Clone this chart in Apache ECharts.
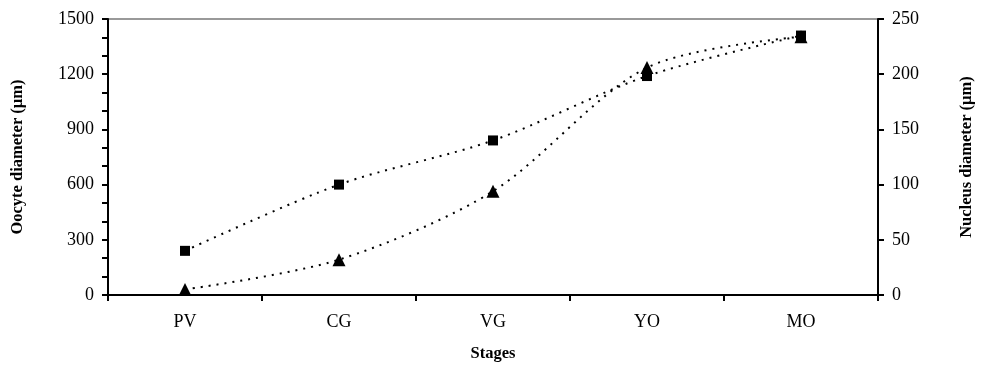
<!DOCTYPE html>
<html>
<head>
<meta charset="utf-8">
<script src="https://cdn.jsdelivr.net/npm/echarts@6/dist/echarts.min.js"></script>
<style>
  html, body { margin: 0; padding: 0; background: #fff; }
  #chart { width: 985px; height: 370px; }
</style>
</head>
<body>
<div id="chart"></div>
<script>
  // stages and values
  const stages = ['PV', 'CG', 'VG', 'YO', 'MO']
  const oocyteDiameter = [240, 600, 840, 1190, 1410]   // left axis
  const nucleusDiameter = [5, 32, 94, 206, 234]        // right axis

  const serif = 'Liberation Serif'
  const chart = echarts.init(document.getElementById('chart'))

  const nameStyle = { fontFamily: serif, fontSize: 16.5, fontWeight: 'bold', color: '#000' }
  const tickLabel = { fontFamily: serif, fontSize: 18, color: '#000' }

  const option = {
    animation: false,
    grid: {
      left: 108,
      right: 107,
      top: 19,
      bottom: 75,
      outerBoundsMode: 'none',
      containLabel: false,
      show: true,
      borderColor: '#999',
      borderWidth: 2
    },
    xAxis: {
      type: 'category',
      data: stages,
      boundaryGap: true,
      name: 'Stages',
      nameLocation: 'middle',
      nameGap: 50,
      nameTextStyle: nameStyle,
      axisLine: { lineStyle: { color: '#000', width: 2 } },
      axisTick: { show: true, length: 6, lineStyle: { color: '#000', width: 2 } },
      axisLabel: Object.assign({ margin: 18 }, tickLabel),
      splitLine: { show: false }
    },
    yAxis: [
      {
        type: 'value',
        min: 0,
        max: 1500,
        interval: 300,
        name: 'Oocyte diameter (µm)',
        nameLocation: 'middle',
        nameGap: 82,
        nameTextStyle: nameStyle,
        axisLine: { show: true, lineStyle: { color: '#000', width: 2 } },
        axisTick: { show: true, length: 6, lineStyle: { color: '#000', width: 2 } },
        minorTick: { show: true, splitNumber: 3, length: 6, lineStyle: { color: '#000', width: 2 } },
        axisLabel: Object.assign({ margin: 14, formatter: v => String(v) }, tickLabel),
        splitLine: { show: false }
      },
      {
        type: 'value',
        min: 0,
        max: 250,
        interval: 50,
        position: 'right',
        name: 'Nucleus diameter (µm)',
        nameLocation: 'middle',
        nameGap: 80,
        nameRotate: 90,
        nameTextStyle: nameStyle,
        axisLine: { show: true, lineStyle: { color: '#000', width: 2 } },
        axisTick: { show: true, length: 6, lineStyle: { color: '#000', width: 2 } },
        axisLabel: Object.assign({ margin: 14 }, tickLabel),
        splitLine: { show: false }
      }
    ],
    series: [
      {
        name: 'Oocyte diameter',
        type: 'line',
        yAxisIndex: 0,
        data: oocyteDiameter,
        smooth: 0.3,
        symbol: 'rect',
        symbolSize: 10,
        itemStyle: { color: '#000' },
        lineStyle: { color: '#000', width: 2, type: [2, 6] }
      },
      {
        name: 'Nucleus diameter',
        type: 'line',
        yAxisIndex: 1,
        data: nucleusDiameter,
        smooth: 0.3,
        symbol: 'triangle',
        symbolSize: 13,
        itemStyle: { color: '#000' },
        lineStyle: { color: '#000', width: 2, type: [2, 6] }
      }
    ]
  }

  chart.setOption(option)
</script>
</body>
</html>
